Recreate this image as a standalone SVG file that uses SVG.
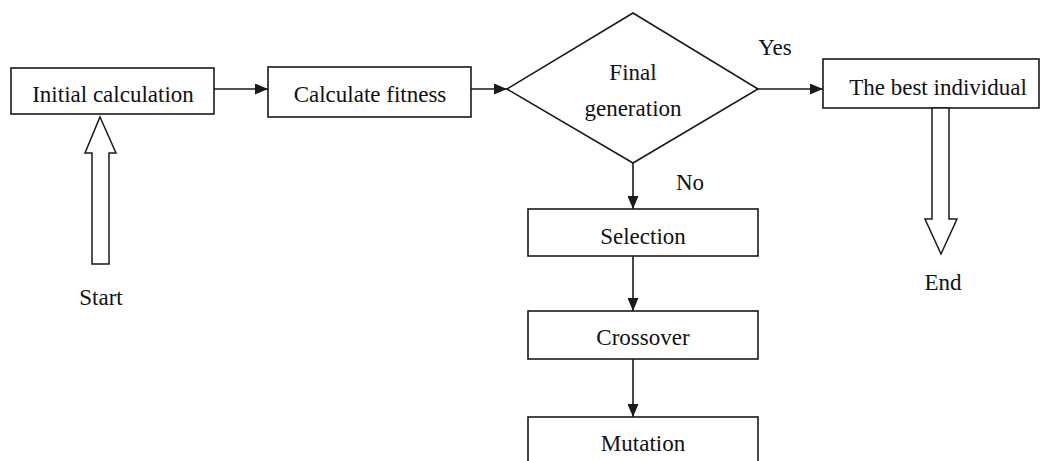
<svg xmlns="http://www.w3.org/2000/svg" width="1046" height="461" viewBox="0 0 1046 461">
  <style>
    .box { fill: #fff; stroke: #1a1a1a; stroke-width: 1.6; }
    .hollow { fill: #fff; stroke: #1a1a1a; stroke-width: 1.5; stroke-linejoin: miter; }
    .link { fill: none; stroke: #1a1a1a; stroke-width: 1.6; marker-end: url(#head); }
    text { font-family: "Liberation Serif", "Times New Roman", serif; font-size: 23px; fill: #111; text-anchor: middle; }
  </style>
  <defs>
    <marker id="head" markerWidth="13" markerHeight="11" refX="13" refY="5.5" orient="auto" markerUnits="userSpaceOnUse">
      <path d="M0,0 L13,5.5 L0,11 Z" fill="#1a1a1a"/>
    </marker>
  </defs>
  <rect width="1046" height="461" fill="#fff"/>

  <!-- connectors -->
  <g id="connectors">
    <line class="link" x1="214" y1="89" x2="268" y2="89"/>
    <line class="link" x1="471" y1="89" x2="507" y2="89"/>
    <line class="link" x1="758" y1="89" x2="823" y2="89"/>
    <line class="link" x1="633" y1="163" x2="633" y2="209"/>
    <line class="link" x1="633" y1="256" x2="633" y2="311"/>
    <line class="link" x1="633" y1="359" x2="633" y2="417"/>
    <text x="775" y="55">Yes</text>
    <text x="690" y="190">No</text>
  </g>

  <!-- start: hollow arrow pointing up into the first step -->
  <g id="start">
    <polygon class="hollow" points="100,117 116,153 109,153 109,264 92,264 92,153 85,153"/>
    <text x="101" y="305">Start</text>
  </g>

  <g id="initial">
    <rect class="box" x="11" y="68" width="203" height="46"/>
    <text x="113" y="102">Initial calculation</text>
  </g>

  <g id="fitness">
    <rect class="box" x="268" y="67" width="203" height="50"/>
    <text x="370" y="102">Calculate fitness</text>
  </g>

  <g id="decision">
    <polygon class="box" points="633,13 758,89 633,163 507,89"/>
    <text x="633" y="80">Final</text>
    <text x="633" y="116">generation</text>
  </g>

  <g id="best">
    <rect class="box" x="823" y="59" width="216" height="49"/>
    <text x="938" y="95">The best individual</text>
  </g>

  <!-- end: hollow arrow pointing down out of the result -->
  <g id="end">
    <polygon class="hollow" points="932,108 949,108 949,219 957,219 941,254 925,219 932,219"/>
    <text x="943" y="290">End</text>
  </g>

  <g id="selection">
    <rect class="box" x="528" y="209" width="230" height="47"/>
    <text x="643" y="244">Selection</text>
  </g>

  <g id="crossover">
    <rect class="box" x="528" y="311" width="230" height="48"/>
    <text x="643" y="345">Crossover</text>
  </g>

  <g id="mutation">
    <rect class="box" x="528" y="417" width="230" height="60"/>
    <text x="643" y="451">Mutation</text>
  </g>
</svg>
